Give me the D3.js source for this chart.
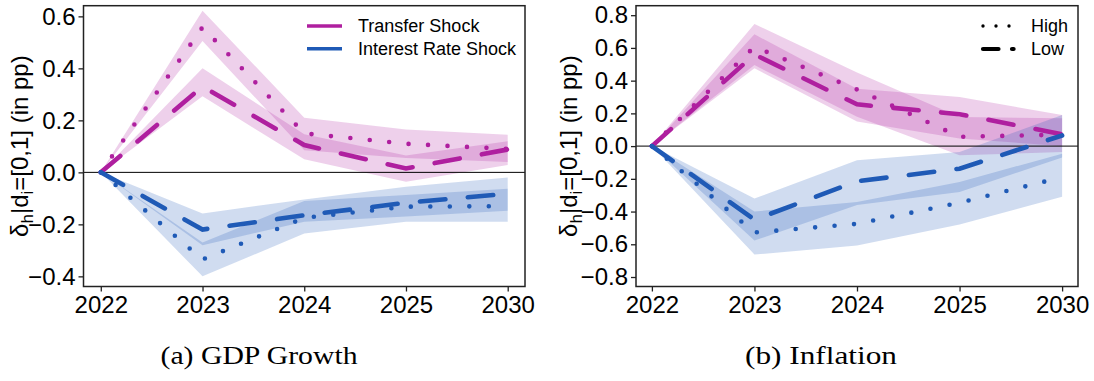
<!DOCTYPE html>
<html>
<head>
<meta charset="utf-8">
<script src="https://cdn.jsdelivr.net/npm/d3@7"></script>
<style>
  html, body { margin: 0; padding: 0; background: #fff; }
  svg { display: block; }
</style>
</head>
<body>
<svg id="chart" width="1094" height="381"></svg>
<script>
// Horizons shown on the x axis
const years = ["2022", "2023", "2024", "2025", "2030"];

// (a) GDP growth — transfer shock, high and low groups, with bands
const gdpTransferHigh   = [0, 0.558, 0.150, 0.110, 0.090];
const gdpTransferHighLo = [0, 0.505, 0.085, 0.055, 0.040];
const gdpTransferHighHi = [0, 0.622, 0.210, 0.165, 0.145];
const gdpTransferLow    = [0, 0.330, 0.105, 0.015, 0.088];
const gdpTransferLowLo  = [0, 0.293, 0.050, -0.036, 0.028];
const gdpTransferLowHi  = [0, 0.400, 0.147, 0.065, 0.120];

// (a) GDP growth — interest rate shock
const gdpRateHigh   = [0, -0.335, -0.175, -0.132, -0.130];
const gdpRateHighLo = [0, -0.400, -0.235, -0.190, -0.190];
const gdpRateHighHi = [0, -0.270, -0.110, -0.087, -0.063];
const gdpRateLow    = [0, -0.220, -0.165, -0.117, -0.082];
const gdpRateLowLo  = [0, -0.280, -0.190, -0.170, -0.148];
const gdpRateLowHi  = [0, -0.158, -0.104, -0.055, -0.020];

// (b) Inflation — transfer shock
const infTransferHigh   = [0, 0.607, 0.346, 0.057, 0.070];
const infTransferHighLo = [0, 0.495, 0.180, -0.056, -0.036];
const infTransferHighHi = [0, 0.746, 0.450, 0.178, 0.170];
const infTransferLow    = [0, 0.560, 0.255, 0.195, 0.072];
const infTransferLowLo  = [0, 0.475, 0.150, 0.046, 0.000];
const infTransferLowHi  = [0, 0.683, 0.350, 0.300, 0.190];

// (b) Inflation — interest rate shock
const infRateHigh   = [0, -0.528, -0.475, -0.346, -0.190];
const infRateHighLo = [0, -0.663, -0.607, -0.479, -0.310];
const infRateHighHi = [0, -0.400, -0.342, -0.220, -0.046];
const infRateLow    = [0, -0.450, -0.215, -0.138, 0.065];
const infRateLowLo  = [0, -0.577, -0.360, -0.280, -0.070];
const infRateLowHi  = [0, -0.320, -0.087, -0.036, 0.190];

// Tick values
const gdpTicks = [-0.4, -0.2, 0.0, 0.2, 0.4, 0.6];
const infTicks = [-0.8, -0.6, -0.4, -0.2, 0.0, 0.2, 0.4, 0.6, 0.8];

// Legend entries
const shockNames = ["Transfer Shock", "Interest Rate Shock"];
const groupNames = ["High", "Low"];
const captions = ["(a) GDP Growth", "(b) Inflation"];

const MAGENTA = "#af1f9f";
const BLUE = "#1f5ab6";
const BAND_OPACITY = 0.21;
const SANS = "Liberation Sans, Arial, sans-serif";

const svg = d3.select("#chart");
const fmt = v => (v < 0 ? "\u2212" : "") + Math.abs(v).toFixed(1);

function panel(cfg) {
  const { left, right, top, bottom, ydom, ticks, padding } = cfg;
  const x = d3.scalePoint().domain(years).range([left, right]).padding(padding);
  const y = d3.scaleLinear().domain(ydom).range([bottom, top]);
  const g = svg.append("g");

  const clipId = "clip" + cfg.id;
  svg.append("clipPath").attr("id", clipId)
    .append("rect").attr("x", left).attr("y", top)
    .attr("width", right - left).attr("height", bottom - top);

  const plot = g.append("g").attr("clip-path", `url(#${clipId})`);

  const area = d3.area()
    .x((d, i) => x(years[i]))
    .y0(d => y(d[0]))
    .y1(d => y(d[1]));
  const line = d3.line().x((d, i) => x(years[i])).y(d => y(d));

  // confidence bands
  cfg.series.forEach(s => {
    [[s.highLo, s.highHi], [s.lowLo, s.lowHi]].forEach(([lo, hi]) => {
      plot.append("path")
        .datum(lo.map((v, i) => [v, hi[i]]))
        .attr("d", area)
        .attr("fill", s.color)
        .attr("fill-opacity", BAND_OPACITY);
    });
  });

  // zero reference line
  plot.append("line")
    .attr("x1", left).attr("x2", right)
    .attr("y1", y(0)).attr("y2", y(0))
    .attr("stroke", "#000").attr("stroke-width", 1);

  // point estimates: dotted = high, dashed = low
  cfg.series.forEach(s => {
    plot.append("path").datum(s.low).attr("d", line)
      .attr("fill", "none").attr("stroke", s.color)
      .attr("stroke-width", 4.6).attr("stroke-linecap", "round")
      .attr("stroke-dasharray", "25.5,22.5");
    plot.append("path").datum(s.high).attr("d", line)
      .attr("fill", "none").attr("stroke", s.color)
      .attr("stroke-width", 4.6).attr("stroke-linecap", "round")
      .attr("stroke-dasharray", "0,19.5");
  });

  // axes
  const xAxis = d3.axisBottom(x).tickSizeInner(5).tickSizeOuter(0).tickPadding(4);
  const yAxis = d3.axisLeft(y).tickValues(ticks).tickFormat(fmt)
    .tickSizeInner(5).tickSizeOuter(0).tickPadding(3);

  const gx = g.append("g").attr("transform", `translate(0,${bottom})`).call(xAxis);
  const gy = g.append("g").attr("transform", `translate(${left},0)`).call(yAxis);
  [gx, gy].forEach(a => {
    a.select(".domain").remove();
    a.selectAll("line").attr("stroke", "#222").attr("stroke-width", 1.3);
    a.selectAll("text").attr("font-family", SANS)
      .attr("font-size", 24).attr("fill", "#000");
  });
  gx.selectAll("text").attr("dy", "0.71em");

  // frame
  g.append("rect")
    .attr("x", left).attr("y", top)
    .attr("width", right - left).attr("height", bottom - top)
    .attr("fill", "none").attr("stroke", "#222").attr("stroke-width", 1.5);

  // y-axis title with subscripts
  const yl = g.append("text")
    .attr("transform", `translate(${cfg.ylabelX},${(top + bottom) / 2}) rotate(-90)`)
    .attr("text-anchor", "middle")
    .attr("font-family", SANS)
    .attr("font-size", 24).attr("fill", "#000");
  yl.append("tspan").text("\u03b4");
  yl.append("tspan").attr("font-size", 17).attr("dy", 5).text("h");
  yl.append("tspan").attr("dy", -5).text("|d");
  yl.append("tspan").attr("font-size", 17).attr("dy", 5).text("i");
  yl.append("tspan").attr("dy", -5).text("=[0,1] (in pp)");

  // caption
  svg.append("text")
    .attr("x", cfg.captionX).attr("y", 364)
    .attr("text-anchor", "middle")
    .attr("font-family", "Liberation Serif, Times New Roman, serif")
    .attr("font-size", 26).attr("fill", "#000")
    .attr("textLength", cfg.captionW).attr("lengthAdjust", "spacingAndGlyphs")
    .text(cfg.caption);

  return { x, y, g };
}

const plotTop = 5.7, plotBottom = 286.5;

panel({
  id: "a", left: 83.5, right: 525, top: plotTop, bottom: plotBottom, padding: 0.17,
  ydom: [-0.439, 0.641], ticks: gdpTicks, ylabelX: 28,
  caption: captions[0], captionX: 259, captionW: 197,
  series: [
    { color: MAGENTA, high: gdpTransferHigh, highLo: gdpTransferHighLo, highHi: gdpTransferHighHi,
      low: gdpTransferLow, lowLo: gdpTransferLowLo, lowHi: gdpTransferLowHi },
    { color: BLUE, high: gdpRateHigh, highLo: gdpRateHighLo, highHi: gdpRateHighHi,
      low: gdpRateLow, lowLo: gdpRateLowLo, lowHi: gdpRateLowHi }
  ]
});

panel({
  id: "b", left: 636, right: 1078, top: plotTop, bottom: plotBottom, padding: 0.155,
  ydom: [-0.858, 0.858], ticks: infTicks, ylabelX: 577,
  caption: captions[1], captionX: 821, captionW: 152,
  series: [
    { color: MAGENTA, high: infTransferHigh, highLo: infTransferHighLo, highHi: infTransferHighHi,
      low: infTransferLow, lowLo: infTransferLowLo, lowHi: infTransferLowHi },
    { color: BLUE, high: infRateHigh, highLo: infRateHighLo, highHi: infRateHighHi,
      low: infRateLow, lowLo: infRateLowLo, lowHi: infRateLowHi }
  ]
});

// legend: shocks (left panel)
const leg1 = svg.append("g");
[MAGENTA, BLUE].forEach((c, i) => {
  const yy = 26 + i * 22.7;
  leg1.append("line").attr("x1", 307).attr("x2", 342).attr("y1", yy).attr("y2", yy)
    .attr("stroke", c).attr("stroke-width", 3.4);
  leg1.append("text").attr("x", 358).attr("y", yy).attr("dy", "0.35em")
    .attr("font-family", SANS).attr("font-size", 18)
    .attr("fill", "#000").text(shockNames[i]);
});

// legend: groups (right panel)
const leg2 = svg.append("g");
["0,13", "15.5,13.5"].forEach((dash, i) => {
  const yy = 26 + i * 23;
  leg2.append("line").attr("x1", 983).attr("x2", i === 0 ? 1011 : 1013.6).attr("y1", yy).attr("y2", yy)
    .attr("stroke", "#000").attr("stroke-width", i === 0 ? 3.4 : 4.2)
    .attr("stroke-linecap", "round").attr("stroke-dasharray", dash);
  leg2.append("text").attr("x", 1031).attr("y", yy).attr("dy", "0.35em")
    .attr("font-family", SANS).attr("font-size", 18)
    .attr("fill", "#000").text(groupNames[i]);
});
</script>
</body>
</html>
